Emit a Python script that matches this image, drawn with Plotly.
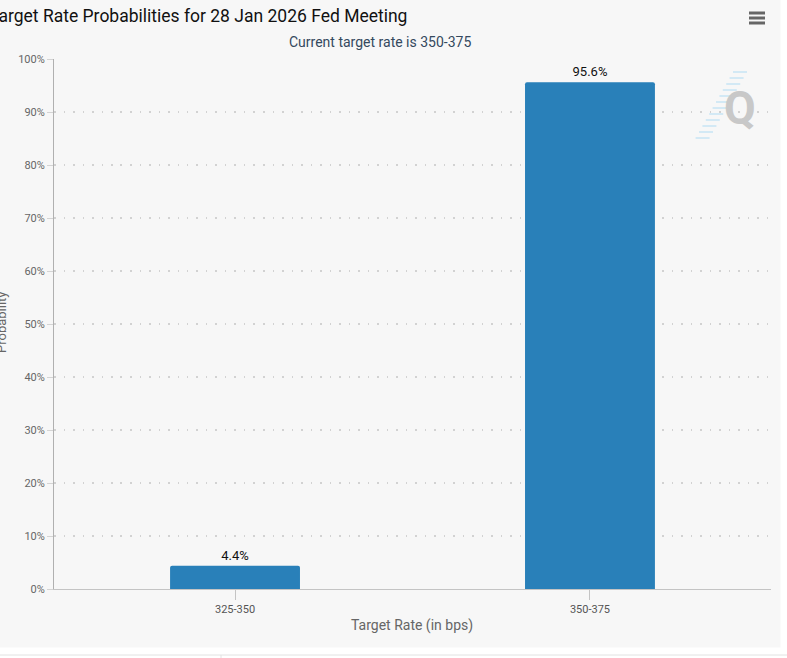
import plotly.graph_objects as go

categories = ["325-350", "350-375"]
probabilities = [4.4, 95.6]
y_ticks = [0, 10, 20, 30, 40, 50, 60, 70, 80, 90, 100]

W, H = 787, 658
L, R, T, B = 54, 16, 59, 69
PW, PH = W - L - R, H - T - B

def px(x):
    return (x - L) / PW

def py(y):
    return (H - B - y) / PH

fig = go.Figure()
fig.add_trace(go.Bar(
    x=categories, y=probabilities,
    marker=dict(color="#2980b9", line=dict(width=0)),
    width=0.366,
    text=[f"{v}%" for v in probabilities], texttemplate="%{text}", textposition="outside",
    textfont=dict(color="#111111", size=13, family="Roboto"),
    cliponaxis=False, hoverinfo="skip",
))

fig.update_layout(
    width=W, height=H,
    margin=dict(l=L, r=R, t=T, b=B, pad=0),
    paper_bgcolor="#f7f7f7", plot_bgcolor="#f7f7f7",
    font=dict(family="Roboto", color="#666666", size=11),
    showlegend=False,
    barcornerradius=2,
    xaxis=dict(
        type="category", range=[-0.51, 1.51],
        showgrid=False, showline=True, linecolor="#c4c4c4", linewidth=1,
        ticks="outside", ticklen=10, tickcolor="#c4c4c4",
        tickfont=dict(size=11, color="#555555"), zeroline=False,
    ),
    yaxis=dict(
        range=[0, 100], tickmode="array", tickvals=y_ticks,
        ticktext=[f"{v}%" for v in y_ticks],
        showgrid=True, gridcolor="#d2d2d2", griddash="1.5px,8px", gridwidth=1.5,
        showline=True, linecolor="#b0b0b0", linewidth=1,
        ticks="outside", ticklen=6, tickcolor="#d4d4d4",
        tickfont=dict(size=11, color="#666666"), zeroline=False,
    ),
)

shapes = [
    # white margins on right and bottom
    dict(type="rect", xref="paper", yref="paper", x0=px(780.5), x1=px(W + 2), y0=py(-2), y1=py(H + 2),
         fillcolor="white", line=dict(width=0), layer="below"),
    dict(type="rect", xref="paper", yref="paper", x0=px(-2), x1=px(W + 2), y0=py(H + 2), y1=py(647.5),
         fillcolor="white", line=dict(width=0), layer="below"),
    dict(type="line", xref="paper", yref="paper", x0=px(0), x1=px(W), y0=py(655), y1=py(655),
         line=dict(color="#e2e2e2", width=1)),
    dict(type="line", xref="paper", yref="paper", x0=px(221), x1=px(221), y0=py(655), y1=py(H + 2),
         line=dict(color="#e2e2e2", width=1)),
]
# hamburger menu icon
for yy in (13, 18, 23):
    shapes.append(dict(type="line", xref="paper", yref="paper", x0=px(749), x1=px(765),
                       y0=py(yy), y1=py(yy), line=dict(color="#666666", width=3)))
# logo stripes
for i in range(12):
    yy = 72 + i * 6
    cx = 742 - i * 3.4
    shapes.append(dict(type="line", xref="paper", yref="paper",
                       x0=px(cx - 9), x1=px(cx + 5),
                       y0=py(yy), y1=py(yy), line=dict(color="#d3e9f5", width=2)))
fig.update_layout(shapes=shapes)

annotations = [
    dict(text="Target Rate Probabilities for 28 Jan 2026 Fed Meeting", xref="paper", yref="paper",
         x=px(-13), y=py(16), xanchor="left", yanchor="middle", showarrow=False,
         font=dict(size=17.5, color="#111111", family="Roboto")),
    dict(text="Current target rate is 350-375", xref="paper", yref="paper",
         x=px(380), y=py(42), xanchor="center", yanchor="middle", showarrow=False,
         font=dict(size=14, color="#34495e", family="Roboto")),
    dict(text="Target Rate (in bps)", xref="paper", yref="paper",
         x=px(412), y=py(625), xanchor="center", yanchor="middle", showarrow=False,
         font=dict(size=14, color="#666666", family="Roboto")),
    dict(text="Probability", xref="paper", yref="paper", textangle=-90,
         x=px(1), y=py(323), xanchor="center", yanchor="middle", showarrow=False,
         font=dict(size=13, color="#666666", family="Roboto")),
    dict(text="<b>Q</b>", xref="paper", yref="paper",
         x=px(740), y=py(108), xanchor="center", yanchor="middle", showarrow=False,
         font=dict(size=46, color="#c8c8c8", family="Roboto")),
]
fig.update_layout(annotations=annotations)

fig.write_html("out.html", config={"displayModeBar": False},
               post_script="document.body.style.margin='0';document.body.style.padding='0';")
